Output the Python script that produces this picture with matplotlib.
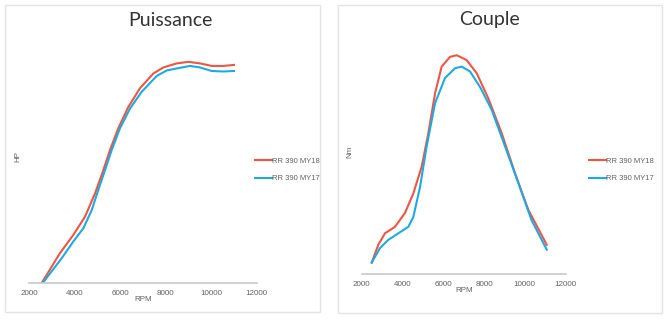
import matplotlib.pyplot as plt
from matplotlib.patches import Rectangle

# Puissance (HP) vs RPM
hp_rpm_my18 = [2545, 3350, 3935, 4450, 4890, 5255, 5550, 5915, 6355, 6870, 7455, 7895, 8480, 8990, 9505, 10020, 10530, 11000]
hp_my18 = [0, 5.9, 9.5, 13.1, 17.7, 22.3, 26.3, 30.6, 34.8, 38.5, 41.4, 42.6, 43.4, 43.7, 43.4, 42.9, 42.9, 43.1]
hp_rpm_my17 = [2590, 3425, 3935, 4375, 4745, 5035, 5330, 5625, 5990, 6430, 6945, 7600, 8040, 8480, 9065, 9505, 10020, 10530, 11000]
hp_my17 = [0, 4.9, 8.2, 10.8, 14.4, 18.4, 22.3, 26.3, 30.6, 34.5, 37.8, 40.9, 42.0, 42.4, 42.9, 42.6, 41.9, 41.8, 41.9]

# Couple (Nm) vs RPM
nm_rpm_my18 = [2490, 2815, 3140, 3630, 4120, 4530, 4940, 5265, 5595, 5920, 6330, 6655, 7145, 7635, 8205, 8865, 9515, 10165, 11070]
nm_my18 = [11.4, 13.6, 15.0, 15.8, 17.5, 19.9, 23.2, 27.3, 32.2, 35.5, 36.7, 36.9, 36.3, 34.7, 31.6, 27.3, 22.4, 17.9, 13.6]
nm_rpm_my17 = [2490, 2900, 3305, 3795, 4285, 4530, 4860, 5185, 5595, 6085, 6575, 6900, 7310, 7800, 8370, 9025, 9675, 10330, 11070]
nm_my17 = [11.4, 13.2, 14.2, 15.0, 15.8, 17.0, 20.7, 25.7, 31.0, 34.1, 35.3, 35.5, 34.9, 33.0, 30.2, 25.7, 21.2, 16.6, 13.0]

labels = ["RR 390 MY18", "RR 390 MY17"]
xticks = [2000, 4000, 6000, 8000, 10000, 12000]

RED = "#EE5544"
BLUE = "#1EAAE0"
GREY = "#606060"
SMALL = "Liberation Sans"
W, H = 670, 323

fig = plt.figure(figsize=(6.7, 3.23), dpi=100)
fig.patch.set_facecolor("white")

# panel frames
for x0, y0, x1, y1 in [(5, 5, 320, 312), (338, 5, 662, 313)]:
    fig.add_artist(Rectangle((x0 / W, 1 - y1 / H), (x1 - x0) / W, (y1 - y0) / H,
                             transform=fig.transFigure, fill=False,
                             edgecolor="#e3e3e3", linewidth=1))


def style_axis(ax, ylabel, ylab_x):
    ax.set_xlim(2000, 12000)
    ax.set_xticks(xticks)
    for s in ["top", "right", "left"]:
        ax.spines[s].set_visible(False)
    ax.spines["bottom"].set_color("#c8c8c8")
    ax.spines["bottom"].set_linewidth(1.2)
    ax.set_yticks([])
    ax.tick_params(axis="x", length=0, labelsize=5.8, labelcolor=GREY, pad=5)
    for t in ax.get_xticklabels():
        t.set_family(SMALL)
    ax.set_xlabel("RPM", fontsize=5.8, color=GREY, labelpad=-1, family=SMALL)
    ax.set_ylabel(ylabel, fontsize=5.8, color=GREY, family=SMALL)
    ax.yaxis.set_label_coords(ylab_x, 0.5)


def add_legend(ax, x):
    ax.legend(loc="center left", bbox_to_anchor=(x / W, 1 - 170 / H), bbox_transform=fig.transFigure,
              frameon=False, prop={"family": SMALL, "size": 5.5}, handlelength=2.2,
              handletextpad=0.1, labelspacing=1.3, labelcolor=GREY)


ax1 = fig.add_axes([29.3 / W, 40 / H, 227.4 / W, 253 / H])
ax1.plot(hp_rpm_my18, hp_my18, color=RED, lw=1.5, label=labels[0], solid_joinstyle="round")
ax1.plot(hp_rpm_my17, hp_my17, color=BLUE, lw=1.5, label=labels[1], solid_joinstyle="round")
ax1.set_ylim(0, 50)
style_axis(ax1, "HP", -0.036)
add_legend(ax1, 248)

ax2 = fig.add_axes([361.7 / W, 49 / H, 204 / W, 244 / H])
ax2.plot(nm_rpm_my18, nm_my18, color=RED, lw=1.5, label=labels[0], solid_joinstyle="round")
ax2.plot(nm_rpm_my17, nm_my17, color=BLUE, lw=1.5, label=labels[1], solid_joinstyle="round")
ax2.set_ylim(10, 40)
style_axis(ax2, "Nm", -0.043)
add_legend(ax2, 582)

fig.text(170 / W, 1 - 21 / H, "Puissance", ha="center", va="center", fontsize=14,
         family="Lato", color="#333333")
fig.text(490 / W, 1 - 20 / H, "Couple", ha="center", va="center", fontsize=14,
         family="Lato", color="#333333")

plt.savefig("out.png", dpi=100)
